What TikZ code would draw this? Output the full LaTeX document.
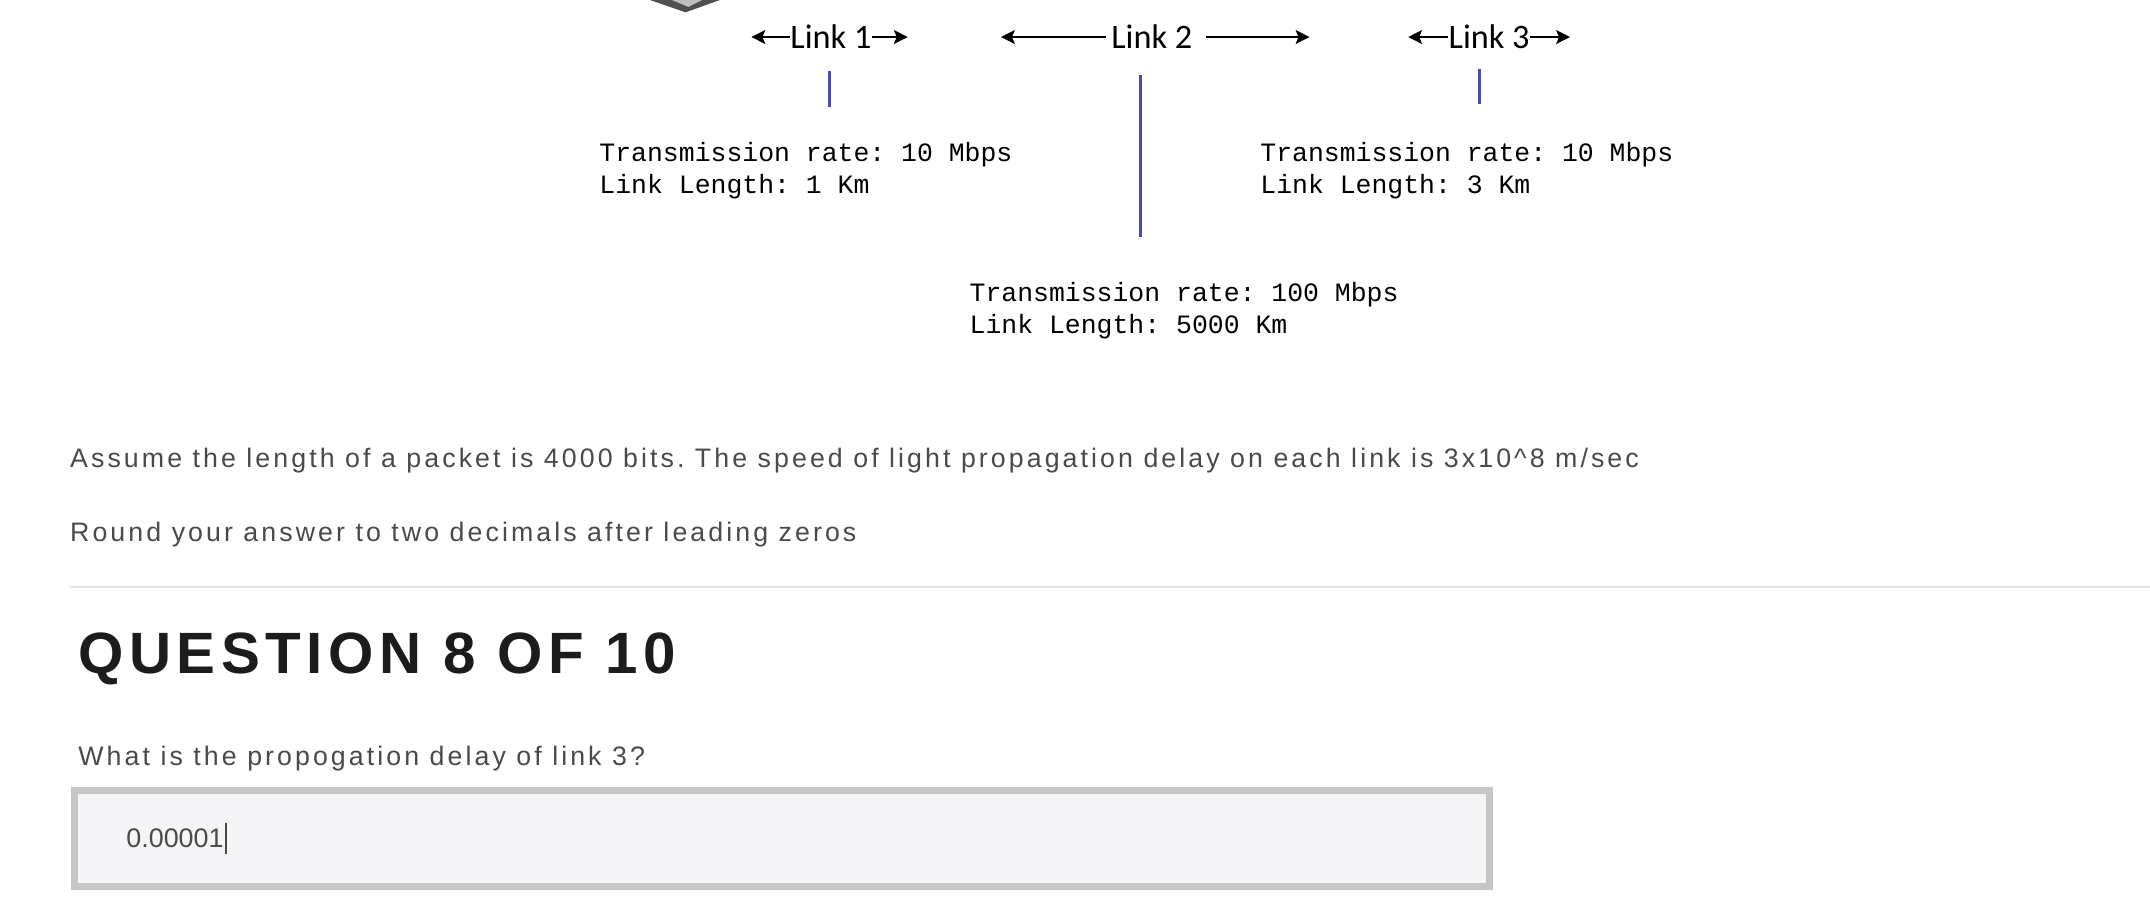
\documentclass[tikz,border=0pt]{standalone}
\usepackage{fontspec}
\setmainfont{Liberation Sans}
\newfontfamily\linkfont{Carlito}
\newfontfamily\monofont{Liberation Mono}
\usetikzlibrary{arrows.meta}
\definecolor{bodygray}{HTML}{4A4A4A}
\definecolor{linkblue}{HTML}{4B4BB4}
\definecolor{rulegray}{HTML}{E2E2E2}
\definecolor{boxborder}{HTML}{C6C6C6}
\definecolor{boxfill}{HTML}{F5F5F7}
\definecolor{titleblack}{HTML}{1C1C1C}
\definecolor{devgray}{HTML}{505050}
\begin{document}
\frenchspacing
\begin{tikzpicture}[x=1pt,y=-1pt,
  linklabel/.style={font=\linkfont\fontsize{25}{30}\selectfont, inner sep=0pt, text=black},
  linkarrow/.style={-{Stealth[length=10pt,width=10pt,inset=2pt]}, line width=1.9pt},
  linktick/.style={draw=linkblue, line width=2pt},
  info/.style={font=\monofont\fontsize{19.3}{23}\selectfont, anchor=base west, inner sep=0pt},
  body/.style={font=\fontsize{19.5}{23}\selectfont\addfontfeature{LetterSpace=11.5}, text=bodygray, anchor=base west, inner sep=0pt},
  title/.style={font=\fontsize{42.5}{46}\selectfont\bfseries\addfontfeature{LetterSpace=9.5}, text=titleblack, anchor=base west, inner sep=0pt},
  answer/.style={font=\fontsize{19.6}{23}\selectfont, text=bodygray, anchor=base west, inner sep=0pt}
]
\useasboundingbox (0,0) rectangle (1568,662.2);
\fill[white] (0,0) rectangle (1568,662.2);

% partial device image at the top
\fill[devgray] (474,0) -- (500,9) -- (525,0) -- cycle;
\fill[black!25] (490,0) -- (502,5) -- (512,0) -- cycle;

% link labels
\node[linklabel] (l1) at (606,27) {Link 1};
\node[linklabel] (l2) at (840,27) {Link 2};
\node[linklabel] (l3) at (1086,27) {Link 3};
\coordinate (l1a) at (548,27);
\coordinate (l1b) at (662,27);
\coordinate (l2a) at (730,27);
\coordinate (l2b) at (955,27);
\coordinate (l3a) at (1027,27);
\coordinate (l3b) at (1145,27);
\draw[linkarrow] (l1.west) -- (l1a);
\draw[linkarrow] (l1.east) -- (l1b);
\draw[linkarrow] ([xshift=-4pt]l2.west) -- (l2a);
\draw[linkarrow] ([xshift=10pt]l2.east) -- (l2b);
\draw[linkarrow] (l3.west) -- (l3a);
\draw[linkarrow] (l3.east) -- (l3b);

% blue ticks
\coordinate (t1a) at (605,52); \coordinate (t1b) at (605,78);
\coordinate (t2a) at (832,55); \coordinate (t2b) at (832,173);
\coordinate (t3a) at (1079,50); \coordinate (t3b) at (1079,76);
\draw[linktick] (t1a) -- (t1b);
\draw[linktick] (t2a) -- (t2b);
\draw[linktick] (t3a) -- (t3b);

% info texts
\node[info] (i1a) at (437,118) {Transmission rate: 10 Mbps};
\node[info] (i1b) at (437,141) {Link Length: 1 Km};
\node[info] (i3a) at (919,118) {Transmission rate: 10 Mbps};
\node[info] (i3b) at (919,141) {Link Length: 3 Km};
\node[info] (i2a) at (707,220) {Transmission rate: 100 Mbps};
\node[info] (i2b) at (707,243) {Link Length: 5000 Km};

% body texts
\node[body] (assume) at (51,341) {Assume the length of a packet is 4000 bits. The speed of light propagation delay on each link is 3x10\^{}8 m/sec};
\node[body] (round) at (51,395) {Round your answer to two decimals after leading zeros};
\draw[rulegray, line width=1.5pt] (51,428) -- (1568,428);
\node[title] (q) at (57,491) {QUESTION 8 OF 10};
\node[body] (what) at (57,558) {What is the propogation delay of link 3?};

% answer box
\draw[boxborder, fill=boxfill, line width=5pt] (54.5,576.5) rectangle (1086.5,646.5);
\node[answer] (ans) at (92,618) {0.00001};
\draw[bodygray, line width=0.9pt] ([xshift=1.5pt]ans.east |- 0,600) -- ([xshift=1.5pt]ans.east |- 0,623);
\end{tikzpicture}
\end{document}
